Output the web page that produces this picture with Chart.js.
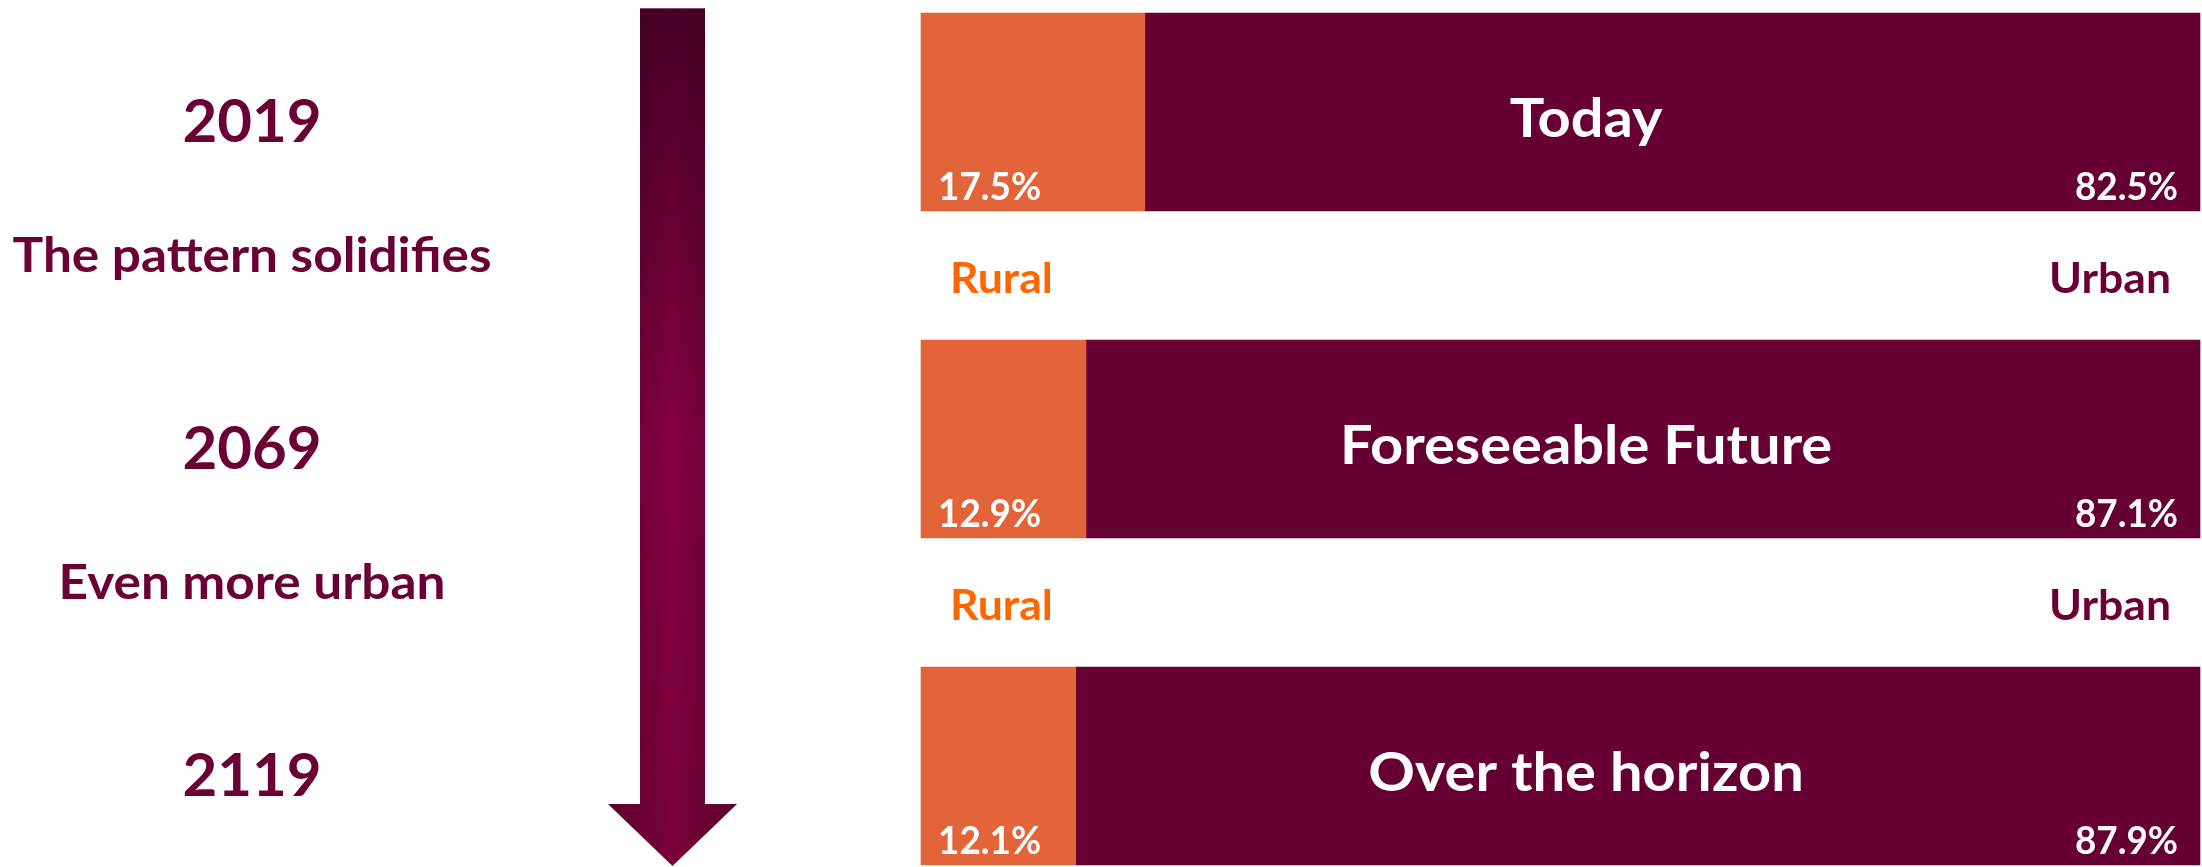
<!DOCTYPE html>
<html>
<head>
<meta charset="utf-8">
<script src="https://cdn.jsdelivr.net/npm/chart.js@4.4.1/dist/chart.umd.min.js"></script>
<style>
  html, body { margin: 0; padding: 0; background: #ffffff; }
  #wrap { width: 2202px; height: 867px; position: relative; }
</style>
</head>
<body>
<div id="wrap"><canvas id="urbanChart" width="2202" height="867"></canvas></div>
<script>
// horizon bars: rural vs urban share of population
const horizons = ['Today', 'Foreseeable Future', 'Over the horizon']
const years = ['2019', '2069', '2119']
const captions = ['The pattern solidifies', 'Even more urban']
const ruralShare = [17.5, 12.9, 12.1]
const urbanShare = [82.5, 87.1, 87.9]
const sideLabels = ['Rural', 'Urban']

const MAROON = '#660033'
const TEXT_MAROON = '#6a0034'
const ORANGE = '#e36439'
const RURAL_TXT = '#ff6600'
const FONT = 'Lato, "DejaVu Sans", sans-serif'

const fmtPct = (v) => v.toFixed(1) + '%'

// draw text stretched a little, like the wide geometric face in the original
function stretched(ctx, text, x, y, size, color, align, sx = 1) {
    ctx.save()
    ctx.font = `bold ${size}px ${FONT}`
    ctx.fillStyle = color
    ctx.textBaseline = 'alphabetic'
    const w = ctx.measureText(text).width * sx
    let left = x
    if (align === 'center') left = x - w / 2
    else if (align === 'right') left = x - w
    ctx.translate(left, y)
    ctx.scale(sx, 1)
    ctx.textAlign = 'left'
    ctx.fillText(text, 0, 0)
    ctx.restore()
}

// arrow + year / caption column on the left
const timelinePlugin = {
    id: 'timeline',
    beforeDatasetsDraw(chart) {
        const ctx = chart.ctx
        const ys = chart.scales.y
        const top = 8, headTop = 804, tip = 866
        const sL = 640, sR = 705, hL = 608, hR = 737, cx = (sL + sR) / 2

        ctx.save()
        ctx.beginPath()
        ctx.moveTo(sL, top)
        ctx.lineTo(sR, top)
        ctx.lineTo(sR, headTop)
        ctx.lineTo(hR, headTop)
        ctx.lineTo(cx, tip)
        ctx.lineTo(hL, headTop)
        ctx.lineTo(sL, headTop)
        ctx.closePath()
        const vg = ctx.createLinearGradient(0, top, 0, tip)
        vg.addColorStop(0, '#4a0026')
        vg.addColorStop(0.5, '#870042')
        vg.addColorStop(1, '#7a003b')
        ctx.fillStyle = vg
        ctx.fill()
        const hg = ctx.createLinearGradient(hL, 0, hR, 0)
        hg.addColorStop(0, 'rgba(40,0,20,0.35)')
        hg.addColorStop(0.25, 'rgba(40,0,20,0.2)')
        hg.addColorStop(0.5, 'rgba(40,0,20,0)')
        hg.addColorStop(0.75, 'rgba(40,0,20,0.2)')
        hg.addColorStop(1, 'rgba(40,0,20,0.35)')
        ctx.fillStyle = hg
        ctx.fill()
        ctx.strokeStyle = 'rgba(200,120,160,0.6)'
        ctx.lineWidth = 1
        ctx.beginPath()
        ctx.moveTo(sL, top + 0.5)
        ctx.lineTo(sR, top + 0.5)
        ctx.stroke()
        ctx.restore()

        const colX = 252
        years.forEach((yr, i) => {
            const yc = ys.getPixelForValue(i)
            stretched(ctx, yr, colX, yc + 30, 60, TEXT_MAROON, 'center', 1.0)
        })
        captions.forEach((c, i) => {
            const mid = (ys.getPixelForValue(i) + ys.getPixelForValue(i + 1)) / 2
            stretched(ctx, c, colX, mid - 4, 48, TEXT_MAROON, 'center', 1.07)
        })
    },
    afterDatasetsDraw(chart) {
        const ctx = chart.ctx
        const area = chart.chartArea
        const xs = chart.scales.x
        const ys = chart.scales.y
        const rural = chart.getDatasetMeta(0).data
        const urban = chart.getDatasetMeta(1).data

        horizons.forEach((h, i) => {
            const yc = ys.getPixelForValue(i)
            stretched(ctx, h, xs.getPixelForValue(52), yc + 25, 54, '#ffffff', 'center', 1.07)
            const r = rural[i], u = urban[i]
            const bottom = r.y + r.height / 2
            stretched(ctx, fmtPct(ruralShare[i]), r.base + 17, bottom - 11, 38, '#ffffff', 'left', 0.97)
            stretched(ctx, fmtPct(urbanShare[i]), u.x - 22, bottom - 11, 38, '#ffffff', 'right', 0.97)
        })

        // rural / urban tags in the gaps between bars
        for (let i = 0; i < horizons.length - 1; i++) {
            const mid = (ys.getPixelForValue(i) + ys.getPixelForValue(i + 1)) / 2
            stretched(ctx, sideLabels[0], area.left + 29, mid + 17, 42, RURAL_TXT, 'left', 1.06)
            stretched(ctx, sideLabels[1], area.right - 29, mid + 17, 42, TEXT_MAROON, 'right', 1.06)
        }
    }
}

new Chart(document.getElementById('urbanChart'), {
    type: 'bar',
    data: {
        labels: horizons,
        datasets: [
            { label: 'Rural', data: ruralShare, backgroundColor: ORANGE, borderWidth: 0, barThickness: 198, clip: false },
            { label: 'Urban', data: urbanShare, backgroundColor: MAROON, borderWidth: 0, barThickness: 198, clip: false }
        ]
    },
    options: {
        indexAxis: 'y',
        responsive: false,
        animation: false,
        layout: { padding: { left: 921, right: 2, top: 112, bottom: 101 } },
        scales: {
            x: { stacked: true, min: 0, max: 100, display: false },
            y: { stacked: true, offset: false, display: false }
        },
        plugins: {
            legend: { display: false },
            tooltip: { enabled: false }
        }
    },
    plugins: [timelinePlugin]
})
</script>
</body>
</html>
